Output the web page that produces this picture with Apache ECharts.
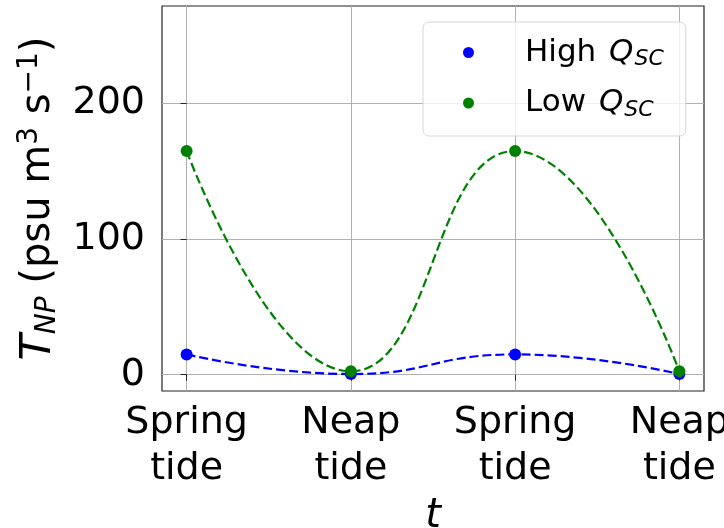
<!DOCTYPE html>
<html>
<head>
<meta charset="utf-8">
<script src="https://cdn.jsdelivr.net/npm/echarts@6/dist/echarts.min.js"></script>
<style>
  html, body { margin: 0; padding: 0; background: #fff; }
  #main { width: 724px; height: 528px; }
</style>
</head>
<body>
<div id="main"></div>
<script>
// data
var tidePos = [0, 1, 2, 3];
var tideLabels = ['Spring\ntide', 'Neap\ntide', 'Spring\ntide', 'Neap\ntide'];
var highQsc = [15, 0.5, 15, 0.5];
var lowQsc = [165, 2.5, 165, 2.5];
var yTicks = [0, 100, 200];

function pairs(ys) {
	return tidePos.map(function(x, i) { return [x, ys[i]]; });
}

var font = 'DejaVu Sans';
var myChart = echarts.init(document.getElementById('main'));

var option = {
	animation: false,
	textStyle: { fontFamily: font, color: '#000' },
	grid: {
		left: 162, right: 20, top: 6, bottom: 137,
		outerBoundsMode: 'none',
		show: true, borderColor: '#222', borderWidth: 1.2
	},
	legend: {
		orient: 'vertical',
		left: 423, top: 22,
		icon: 'circle',
		itemWidth: 11, itemHeight: 11,
		itemGap: 17,
		padding: [15, 22, 15, 40],
		backgroundColor: 'rgba(255,255,255,0.8)',
		borderColor: '#d6d6d6', borderWidth: 1, borderRadius: 6,
		formatter: function(name) {
			var p = name.split(' ');
			return '{n|' + p[0] + ' }{q|Q}{s|SC}';
		},
		textStyle: {
			padding: [0, 0, 0, 46],
			rich: {
				n: { fontSize: 31, fontFamily: font, lineHeight: 36 },
				q: { fontSize: 31, fontFamily: font, fontStyle: 'italic', lineHeight: 36, padding: [0, 0, 0, 3] },
				s: { fontSize: 22, fontFamily: font, fontStyle: 'italic', verticalAlign: 'bottom', lineHeight: 22, padding: [0, 0, 0, 1] }
			}
		},
		data: ['High QSC', 'Low QSC']
	},
	xAxis: {
		type: 'value',
		min: -0.15, max: 3.15,
		name: 't',
		nameLocation: 'middle',
		nameGap: 103,
		nameTextStyle: { fontSize: 40, fontStyle: 'italic', fontFamily: font, color: '#000' },
		axisLine: { show: false },
		axisTick: { show: true, length: 6, inside: false, customValues: tidePos, lineStyle: { color: '#222' } },
		axisLabel: {
			customValues: tidePos,
			fontSize: 38, lineHeight: 46, color: '#000', margin: 9,
			formatter: function(v) { return tideLabels[Math.round(v)]; }
		},
		splitLine: { show: true, lineStyle: { color: '#b0b0b0', width: 1 } }
	},
	yAxis: {
		type: 'value',
		min: -12, max: 272,
		name: '{it|T}{sub|NP}{n| (psu m}{sup|3}{n| s}{sup|−1}{n|)}',
		nameLocation: 'middle',
		nameRotate: 90,
		nameGap: 100,
		nameTextStyle: {
			rich: {
				it: { fontSize: 43, fontStyle: 'italic', fontFamily: font, lineHeight: 46 },
				n: { fontSize: 40, fontFamily: font, lineHeight: 46 },
				sub: { fontSize: 28, fontStyle: 'italic', fontFamily: font, verticalAlign: 'bottom', lineHeight: 28 },
				sup: { fontSize: 28, fontFamily: font, verticalAlign: 'top', lineHeight: 28 }
			}
		},
		axisLine: { show: false },
		axisTick: { show: true, length: 6, inside: false, customValues: yTicks, lineStyle: { color: '#222' } },
		axisLabel: { customValues: yTicks, fontSize: 38, color: '#000', margin: 17 },
		splitLine: { show: true, lineStyle: { color: '#b0b0b0', width: 1 } }
	},
	series: [{
		name: 'High QSC',
		type: 'line',
		data: pairs(highQsc),
		smooth: 0.5,
		symbol: 'circle',
		symbolSize: 12,
		itemStyle: { color: '#0000ff' },
		lineStyle: { color: '#0000ff', width: 2.2, type: [9, 4] }
	}, {
		name: 'Low QSC',
		type: 'line',
		data: pairs(lowQsc),
		smooth: 0.5,
		symbol: 'circle',
		symbolSize: 12,
		itemStyle: { color: '#008000' },
		lineStyle: { color: '#008000', width: 2.2, type: [9, 4] }
	}]
};
myChart.setOption(option);
</script>
</body>
</html>
